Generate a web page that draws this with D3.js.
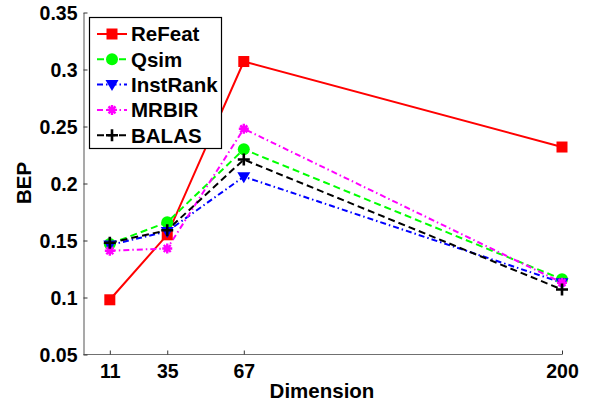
<!DOCTYPE html>
<html>
<head>
<meta charset="utf-8">
<script src="https://cdn.jsdelivr.net/npm/d3@7"></script>
<style>
  body { margin: 0; background: #fff; }
  svg text { font-family: "Liberation Sans", Arial, sans-serif; font-weight: bold; fill: #000; }
</style>
</head>
<body>
<svg width="606" height="408"></svg>
<script>
// values
const dims = [11, 35, 67, 200];
const yTicks = [0.05, 0.1, 0.15, 0.2, 0.25, 0.3, 0.35];
const reFeat = [0.098, 0.155, 0.307, 0.232];
const qsim = [0.147, 0.166, 0.230, 0.116];
const instRank = [0.146, 0.158, 0.206, 0.113];
const mrbir = [0.141, 0.143, 0.248, 0.113];
const balas = [0.148, 0.159, 0.221, 0.107];

const series = [
    { name: "ReFeat", values: reFeat, color: "#ff0000", dash: null, marker: "square" },
    { name: "Qsim", values: qsim, color: "#00ff00", dash: "7,4", marker: "circle" },
    { name: "InstRank", values: instRank, color: "#0000ff", dash: "6,3,1.5,3", marker: "tri" },
    { name: "MRBIR", values: mrbir, color: "#ff00ff", dash: "6,3,1.5,3", marker: "star" },
    { name: "BALAS", values: balas, color: "#000000", dash: "7,4", marker: "plus" }
];

const svg = d3.select("svg");
const x = d3.scaleLinear().domain([0, 200]).range([83.5, 562]);
const y = d3.scaleLinear().domain([0.05, 0.35]).range([354.5, 12.5]);

// axes (MATLAB style, ticks pointing inwards, box off)
const axisColor = "#707070";
const xAxis = svg.append("g").attr("transform", "translate(0,354.5)")
    .call(d3.axisBottom(x).tickValues(dims).tickSize(-4).tickSizeOuter(0).tickPadding(10));
const yAxis = svg.append("g").attr("transform", "translate(83.5,0)")
    .call(d3.axisLeft(y).tickValues(yTicks).tickSize(-4).tickSizeOuter(0).tickPadding(6)
        .tickFormat(d => String(+d.toFixed(2))));
[xAxis, yAxis].forEach(g => {
    g.select(".domain").attr("stroke", axisColor).attr("stroke-width", 1.2);
    g.selectAll(".tick line").attr("stroke", "#333");
    g.selectAll(".tick text").style("font-size", "19.5px").attr("fill", "#000");
});
xAxis.selectAll(".tick text").attr("dy", "0.71em");
yAxis.selectAll(".tick text").attr("dy", "0.36em");
// x axis line stops at the last tick
xAxis.select(".domain").attr("d", `M${x(0)},0H${x(200)}`);

svg.append("text").attr("x", 322).attr("y", 398).attr("text-anchor", "middle")
    .style("font-size", "20.5px").text("Dimension");
svg.append("text").attr("transform", "translate(31,183) rotate(-90)").attr("text-anchor", "middle")
    .style("font-size", "20.5px").text("BEP");

function drawMarker(g, type, color) {
    if (type === "square") {
        g.append("rect").attr("x", -5.5).attr("y", -5.5).attr("width", 11).attr("height", 11).attr("fill", color);
    } else if (type === "circle") {
        g.append("circle").attr("r", 6).attr("fill", color);
    } else if (type === "tri") {
        g.append("path").attr("d", "M-6.5,-4.5L6.5,-4.5L0,6.5Z").attr("fill", color);
    } else if (type === "star") {
        g.append("path").attr("d", "M-5,0H5M0,-5V5M-3.5,-3.5L3.5,3.5M-3.5,3.5L3.5,-3.5")
            .attr("stroke", color).attr("stroke-width", 2.4);
    } else if (type === "plus") {
        g.append("path").attr("d", "M-6,0H6M0,-6V6").attr("stroke", color).attr("stroke-width", 2.6);
    }
}

const line = d3.line().x((d, i) => x(dims[i])).y(d => y(d));

series.forEach(s => {
    svg.append("path").datum(s.values)
        .attr("d", line)
        .attr("fill", "none")
        .attr("stroke", s.color)
        .attr("stroke-width", 2)
        .attr("stroke-dasharray", s.dash);
});
series.forEach(s => {
    s.values.forEach((v, i) => {
        const g = svg.append("g").attr("transform", `translate(${x(dims[i])},${y(v)})`);
        drawMarker(g, s.marker, s.color);
    });
});

// legend
const legend = svg.append("g");
legend.append("rect").attr("x", 89.5).attr("y", 17.5).attr("width", 132).attr("height", 131)
    .attr("fill", "#fff").attr("stroke", "#000").attr("stroke-width", 1.2);
series.forEach((s, i) => {
    const ly = 34 + i * 25.3;
    legend.append("line").attr("x1", 97).attr("x2", 127).attr("y1", ly).attr("y2", ly)
        .attr("stroke", s.color).attr("stroke-width", 2).attr("stroke-dasharray", s.dash);
    drawMarker(legend.append("g").attr("transform", `translate(112,${ly})`), s.marker, s.color);
    legend.append("text").attr("x", 131).attr("y", ly).attr("dy", "0.36em")
        .style("font-size", "20.5px").text(s.name);
});
</script>
</body>
</html>
